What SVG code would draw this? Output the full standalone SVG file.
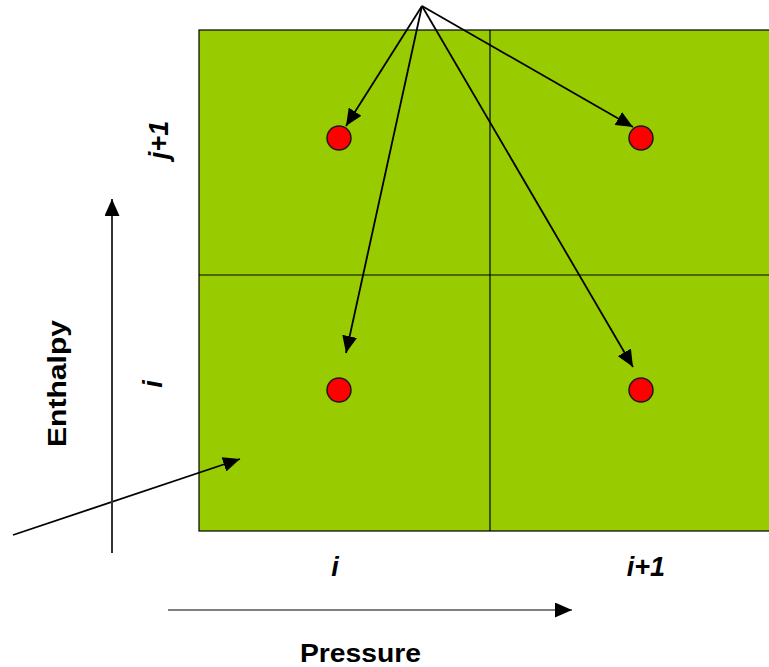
<svg xmlns="http://www.w3.org/2000/svg" width="769" height="667" viewBox="0 0 769 667">
<style>
.lbl{font-family:"Liberation Sans",Arial,sans-serif;font-weight:bold;fill:#000}
.idx{font-family:"Liberation Sans",Arial,sans-serif;font-weight:bold;font-style:italic;font-size:27px;fill:#000}
.dot{fill:#ff0000;stroke:#1a1a1a;stroke-width:1.5}
.con{stroke:#000;stroke-width:1.8;fill:none}
</style>
<defs>
<marker id="ah2" markerWidth="17" markerHeight="15" refX="17" refY="7.5" orient="auto" markerUnits="userSpaceOnUse" viewBox="0 0 17 15">
<path d="M0,0 L17,7.5 L0,15 z" fill="#000"/>
</marker>
</defs>
<g id="grid">
<rect x="199" y="30" width="580" height="501" fill="#99cc00" stroke="#000" stroke-width="1.2"/>
<line x1="490" y1="30" x2="490" y2="531" stroke="#000" stroke-width="1.2"/>
<line x1="199" y1="275" x2="769" y2="275" stroke="#000" stroke-width="1.2"/>
</g>
<g id="dot-i-j1"><circle class="dot" cx="339" cy="138" r="12"/></g>
<g id="dot-i1-j1"><circle class="dot" cx="641" cy="138" r="12"/></g>
<g id="dot-i-j"><circle class="dot" cx="339" cy="390" r="12"/></g>
<g id="dot-i1-j"><circle class="dot" cx="641" cy="390" r="12"/></g>
<g id="connectors">
<line class="con" x1="422" y1="6" x2="346" y2="126" marker-end="url(#ah2)"/>
<line class="con" x1="422" y1="6" x2="633" y2="127" marker-end="url(#ah2)"/>
<line class="con" x1="422" y1="6" x2="346" y2="353" marker-end="url(#ah2)"/>
<line class="con" x1="422" y1="6" x2="633" y2="367" marker-end="url(#ah2)"/>
<line class="con" x1="13" y1="535" x2="240" y2="459" marker-end="url(#ah2)"/>
</g>
<g id="axis-enthalpy">
<line x1="112" y1="553" x2="112" y2="199" stroke="#333" stroke-width="2" marker-end="url(#ah2)"/>
<text class="lbl" font-size="26" transform="translate(66,383.5) rotate(-90)" text-anchor="middle" textLength="127" lengthAdjust="spacingAndGlyphs">Enthalpy</text>
</g>
<g id="axis-pressure">
<line x1="168" y1="610" x2="572" y2="610" stroke="#808080" stroke-width="2" marker-end="url(#ah2)"/>
<text class="lbl" font-size="25" x="300" y="662" textLength="121" lengthAdjust="spacingAndGlyphs">Pressure</text>
</g>
<g id="labels">
<text class="idx" transform="translate(168,140) rotate(-90)" text-anchor="middle">j+1</text>
<text class="idx" transform="translate(162,384) rotate(-90)" text-anchor="middle">i</text>
<text class="idx" x="335" y="576" text-anchor="middle">i</text>
<text class="idx" x="646" y="576" text-anchor="middle">i+1</text>
</g>
</svg>
